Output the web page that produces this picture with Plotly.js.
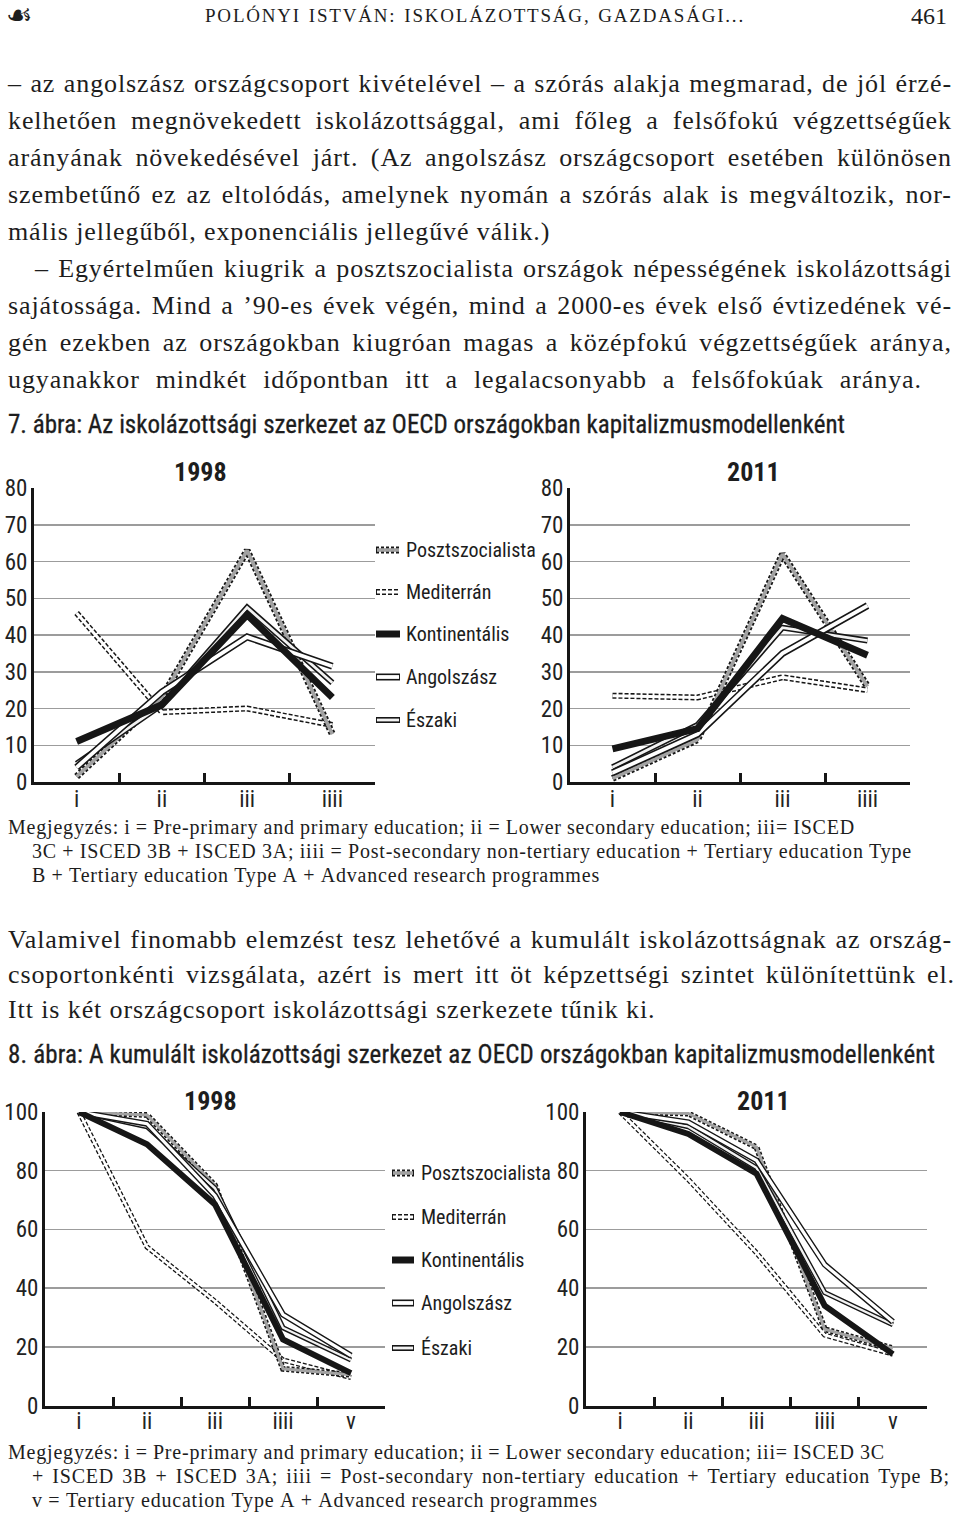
<!DOCTYPE html>
<html><head><meta charset="utf-8">
<script src="https://cdn.plot.ly/plotly-3.0.1.min.js"></script>
<style>
html,body{margin:0;padding:0;background:#fff;}
body{width:960px;height:1517px;position:relative;overflow:hidden;color:#1d1d1d;}
.t{position:absolute;white-space:nowrap;}
.serif{font-family:"Liberation Serif","DejaVu Serif",serif;}
.cond{font-family:"Liberation Sans Narrow","Arial Narrow","Roboto Condensed","DejaVu Sans Condensed",sans-serif;-webkit-text-stroke:0.3px #1d1d1d;}
.j{display:flex;justify-content:space-between;}
#fig7{position:absolute;left:0;top:440px;width:960px;height:380px;}
#fig8{position:absolute;left:0;top:1070px;width:960px;height:370px;}
</style></head>
<body>
<div id="text"></div>
<div id="fig7"></div>
<div id="fig8"></div>
<script>
// ---------------- DATA ----------------
const seriesNames = ['Posztszocialista','Mediterrán','Kontinentális','Angolszász','Északi'];
const levels7 = ['i','ii','iii','iiii'];
const levels8 = ['i','ii','iii','iiii','v'];
const years = ['1998','2011'];

// 7. ábra – share by level (%)
const f7_1998_poszt  = [1.5, 23, 63, 13];
const f7_1998_med    = [46, 19, 20, 15.5];
const f7_1998_kont   = [11, 21, 45.5, 23];
const f7_1998_angol  = [4, 24.5, 39.5, 31.5];
const f7_1998_eszaki = [5, 21, 47.5, 27];

const f7_2011_poszt  = [1, 11.5, 62, 26];
const f7_2011_med    = [23.5, 23, 28.5, 25];
const f7_2011_kont   = [9, 14.5, 44.5, 34.5];
const f7_2011_angol  = [2.5, 13, 35, 48];
const f7_2011_eszaki = [4, 15.5, 42, 38.5];

// 8. ábra – cumulative (%)
const f8_1998_poszt  = [100, 99, 75, 12.5, 10.5];
const f8_1998_med    = [100, 54, 35.5, 15.5, 9.5];
const f8_1998_kont   = [100, 89, 68.5, 22.5, 11];
const f8_1998_angol  = [100, 96, 71.5, 31, 17];
const f8_1998_eszaki = [100, 95, 74, 26.5, 15.5];

const f8_2011_poszt  = [100, 99.5, 88, 26, 19.5];
const f8_2011_med    = [100, 77, 52, 24, 17.5];
const f8_2011_kont   = [100, 92.5, 79, 34, 17.5];
const f8_2011_angol  = [100, 96.5, 83.5, 48, 28.5];
const f8_2011_eszaki = [100, 95, 81, 38.5, 27.5];

const yTicks7 = [0,10,20,30,40,50,60,70,80];
const yTicks8 = [0,20,40,60,80,100];

// ---------------- TEXT ----------------
const bodyLines = [
 '– az angolszász országcsoport kivételével – a szórás alakja megmarad, de jól érzé-',
 'kelhetően megnövekedett iskolázottsággal, ami főleg a felsőfokú végzettségűek',
 'arányának növekedésével járt. (Az angolszász országcsoport esetében különösen',
 'szembetűnő ez az eltolódás, amelynek nyomán a szórás alak is megváltozik, nor-',
 'mális jellegűből, exponenciális jellegűvé válik.)',
 '– Egyértelműen kiugrik a posztszocialista országok népességének iskolázottsági',
 'sajátossága. Mind a ’90-es évek végén, mind a 2000-es évek első évtizedének vé-',
 'gén ezekben az országokban kiugróan magas a középfokú végzettségűek aránya,',
 'ugyanakkor mindkét időpontban itt a legalacsonyabb a felsőfokúak aránya.'
];
const caption7 = '7. ábra: Az iskolázottsági szerkezet az OECD országokban kapitalizmusmodellenként';
const caption8 = '8. ábra: A kumulált iskolázottsági szerkezet az OECD országokban kapitalizmusmodellenként';
const note7 = [
 'Megjegyzés: i = Pre-primary and primary education; ii = Lower secondary education; iii= ISCED',
 '3C + ISCED 3B + ISCED 3A; iiii = Post-secondary non-tertiary education + Tertiary education Type',
 'B + Tertiary education Type A + Advanced research programmes'
];
const para2 = [
 'Valamivel finomabb elemzést tesz lehetővé a kumulált iskolázottságnak az ország-',
 'csoportonkénti vizsgálata, azért is mert itt öt képzettségi szintet különítettünk el.',
 'Itt is két országcsoport iskolázottsági szerkezete tűnik ki.'
];
const note8 = [
 'Megjegyzés: i = Pre-primary and primary education; ii = Lower secondary education; iii= ISCED 3C',
 '+ ISCED 3B + ISCED 3A; iiii = Post-secondary non-tertiary education + Tertiary education Type B;',
 'v = Tertiary education Type A + Advanced research programmes'
];

const root = document.getElementById('text');
// justified line; shrinks letter-spacing if the words do not fit
function line(txt, cls, left, right, cy, size, lh, ls){
  const d = document.createElement('div');
  d.className = 't j ' + cls;
  const W = right - left;
  d.style.left = left + 'px';
  d.style.width = W + 'px';
  d.style.top = (cy - lh/2) + 'px';
  d.style.height = lh + 'px';
  d.style.lineHeight = lh + 'px';
  d.style.fontSize = size + 'px';
  const words = txt.split(' ');
  const spans = words.map(w => { const s = document.createElement('span'); s.textContent = w; d.appendChild(s); return s; });
  root.appendChild(d);
  const minGap = size * 0.22;
  let cur = ls || 0;
  for (let it = 0; it < 40; it++){
    d.style.letterSpacing = cur + 'px';
    let sum = 0; spans.forEach(s => sum += s.getBoundingClientRect().width);
    if (sum + minGap*(spans.length-1) <= W || cur < -1) break;
    cur -= 0.1;
  }
}
function plain(txt, cls, left, cy, size, lh, extra){
  const d = document.createElement('div');
  d.className = 't ' + cls;
  d.style.left = left + 'px';
  d.style.top = (cy - lh/2) + 'px';
  d.style.lineHeight = lh + 'px';
  d.style.fontSize = size + 'px';
  d.textContent = txt;
  if (extra) Object.assign(d.style, extra);
  root.appendChild(d);
  return d;
}
// header
plain('☙', 'serif', 6, 15, 30, 32, {fontFamily:'"DejaVu Sans",sans-serif'});
line('POLÓNYI ISTVÁN: ISKOLÁZOTTSÁG, GAZDASÁGI...', 'serif', 205, 745, 16, 19, 26, 1.8);
plain('461', 'serif', 911, 16, 24, 26);

// body
const BS = 26, BLS = 0.9;
const bodyY = [84,121,158,195,232,269,306,343,380];
const bodyL = [8,8,8,8,8,35,8,8,8];
const bodyR = [952,952,952,952,0,952,952,952,922];
bodyLines.forEach((t,i)=> {
  if (bodyR[i]) line(t,'serif',bodyL[i],bodyR[i],bodyY[i],BS,34,BLS);
  else plain(t,'serif',bodyL[i],bodyY[i],BS,34,{letterSpacing:BLS+'px'});
});

line(caption7,'cond',8,845,425,25,30,0.2);
const n7y=[827,851,875], n7l=[8,32,32], n7r=[855,912,600];
note7.forEach((t,i)=> line(t,'serif',n7l[i],n7r[i],n7y[i],20,24,0.8));
const p2y=[940,975,1010], p2r=[952,955,0];
para2.forEach((t,i)=> {
  if (p2r[i]) line(t,'serif',8,p2r[i],p2y[i],BS,34,BLS);
  else plain(t,'serif',8,p2y[i],BS,34,{letterSpacing:BLS+'px'});
});
line(caption8,'cond',8,935,1055,25,30,0.2);
const n8y=[1452,1476,1500], n8l=[8,32,32], n8r=[885,950,598];
note8.forEach((t,i)=> line(t,'serif',n8l[i],n8r[i],n8y[i],20,24,0.8));

// ---------------- CHARTS ----------------
const COND = '"Liberation Sans Narrow","Arial Narrow","Roboto Condensed","DejaVu Sans Condensed",sans-serif';
const INK = '#161616';
const styles = [
  {ow:7, od:'3px,2px', ic:'#a2a2a2', iw:3.6},   // Posztszocialista
  {ow:6, od:'4px,2px', ic:'#ffffff', iw:3.0},   // Mediterrán
  {ow:7, od:'solid',   ic:null,      iw:0},     // Kontinentális
  {ow:7, od:'solid',   ic:'#ffffff', iw:3.8},   // Angolszász
  {ow:6, od:'solid',   ic:'#f2f2f2', iw:2.8}    // Északi
];
const drawOrder = [1,0,4,3,2];

function addSeries(traces, x, ys, xa, ya, scale){
  drawOrder.forEach(k=>{
    const s = styles[k];
    traces.push({x:x, y:ys[k], xaxis:xa, yaxis:ya, mode:'lines', type:'scatter', name:seriesNames[k],
      showlegend:false, hoverinfo:'skip', line:{color:INK, width:s.ow*scale, dash:s.od}});
    if (s.ic) traces.push({x:x, y:ys[k], xaxis:xa, yaxis:ya, mode:'lines', type:'scatter', name:seriesNames[k],
      showlegend:false, hoverinfo:'skip', line:{color:s.ic, width:s.iw*scale}});
  });
}
const tickFont = {family:COND, size:23, color:'#222'};
function xax(domain, n, anchor, standoff){
  return {domain:domain, type:'category', range:[-0.5, n-0.5], anchor:anchor,
    showline:true, linecolor:INK, linewidth:3, ticks:'inside', tickson:'boundaries',
    ticklen:9, tickwidth:3, tickcolor:INK, showgrid:false, zeroline:false, tickfont:tickFont,
    ticklabelstandoff:standoff, fixedrange:true};
}
function yax(domain, range, vals, anchor, standoff){
  return {domain:domain, range:range, tickvals:vals, anchor:anchor, showline:true, linecolor:INK, linewidth:3,
    ticks:'', showgrid:true, gridcolor:'#9c9c9c', gridwidth:1.5, zeroline:false, tickfont:tickFont,
    ticklabelstandoff:standoff, fixedrange:true};
}
function legendItems(shapes, annots, x0, x1, xt, ys, toPaperY, scale){
  [0,1,2,3,4].forEach(k=>{
    const s = styles[k], y = toPaperY(ys[k]);
    shapes.push({type:'line', xref:'paper', yref:'paper', x0:x0/960, x1:x1/960, y0:y, y1:y,
      line:{color:INK, width:s.ow*scale, dash:s.od}});
    if (s.ic) shapes.push({type:'line', xref:'paper', yref:'paper', x0:x0/960+0.001, x1:x1/960-0.001, y0:y, y1:y,
      line:{color:s.ic, width:s.iw*scale}});
    annots.push({xref:'paper', yref:'paper', x:xt/960, y:y, xanchor:'left', yanchor:'middle', showarrow:false,
      text:seriesNames[k], font:{family:COND, size:20, color:'#1d1d1d'}});
  });
}
const titleFont = {family:COND, size:26, color:'#1d1d1d'};
function title(annots, txt, x, y){
  annots.push({xref:'paper',yref:'paper',x:x,y:y,xanchor:'center',yanchor:'middle',showarrow:false,
    text:'<b>'+txt+'</b>',font:titleFont});
}

// Figure 7
(function(){
  const traces = [];
  addSeries(traces, levels7, [f7_1998_poszt,f7_1998_med,f7_1998_kont,f7_1998_angol,f7_1998_eszaki], 'x','y',1);
  addSeries(traces, levels7, [f7_2011_poszt,f7_2011_med,f7_2011_kont,f7_2011_angol,f7_2011_eszaki], 'x2','y2',1);
  const H = 380, TOP = 440, py = Y => (TOP + H - Y)/H;
  const shapes = [], annots = [];
  legendItems(shapes, annots, 376, 400, 404, [550,592,634,677,720], py, 1);
  title(annots, years[0], 200/960, py(472));
  title(annots, years[1], 753/960, py(472));
  const yd = [py(782), py(488)];
  const layout = {width:960, height:H, margin:{l:0,r:0,t:0,b:0}, paper_bgcolor:'rgba(0,0,0,0)', plot_bgcolor:'rgba(0,0,0,0)',
    showlegend:false, xaxis:xax([34/960,375/960],4,'y',-6), yaxis:yax(yd,[0,80],yTicks7,'x',-1),
    xaxis2:xax([570/960,910/960],4,'y2',-6), yaxis2:yax(yd,[0,80],yTicks7,'x2',-1), shapes:shapes, annotations:annots};
  Plotly.newPlot('fig7', traces, layout, {staticPlot:true, displayModeBar:false});
})();

// Figure 8
(function(){
  const traces = [];
  addSeries(traces, levels8, [f8_1998_poszt,f8_1998_med,f8_1998_kont,f8_1998_angol,f8_1998_eszaki], 'x','y',0.85);
  addSeries(traces, levels8, [f8_2011_poszt,f8_2011_med,f8_2011_kont,f8_2011_angol,f8_2011_eszaki], 'x2','y2',0.85);
  const H = 370, TOP = 1070, py = Y => (TOP + H - Y)/H;
  const shapes = [], annots = [];
  legendItems(shapes, annots, 392, 414, 419, [1173,1217,1260,1303,1348], py, 1);
  title(annots, years[0], 210/960, py(1101));
  title(annots, years[1], 763/960, py(1101));
  const yd = [py(1405.5), py(1112)];
  const layout = {width:960, height:H, margin:{l:0,r:0,t:0,b:0}, paper_bgcolor:'rgba(0,0,0,0)', plot_bgcolor:'rgba(0,0,0,0)',
    showlegend:false, xaxis:xax([45/960,385/960],5,'y',-7), yaxis:yax(yd,[0,100],yTicks8,'x',-1),
    xaxis2:xax([586/960,927/960],5,'y2',-7), yaxis2:yax(yd,[0,100],yTicks8,'x2',-1), shapes:shapes, annotations:annots};
  Plotly.newPlot('fig8', traces, layout, {staticPlot:true, displayModeBar:false});
})();
</script>
</body></html>
